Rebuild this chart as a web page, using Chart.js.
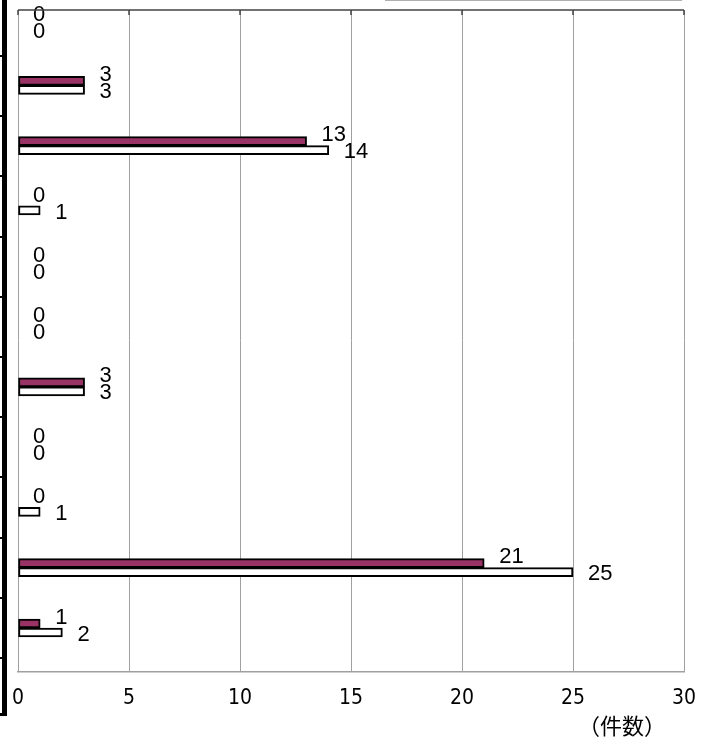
<!DOCTYPE html>
<html>
<head>
<meta charset="utf-8">
<script src="https://cdn.jsdelivr.net/npm/chart.js@4.4.1/dist/chart.umd.min.js"></script>
<style>
  body { margin: 0; background: #fff; }
  canvas { display: block; }
</style>
</head>
<body>
<canvas id="myChart" width="704" height="737"></canvas>
<script>
// categories are cut off in the picture, only their order is known
const categories = ['1', '2', '3', '4', '5', '6', '7', '8', '9', '10', '11']
const seriesA = [0, 3, 13, 0, 0, 0, 3, 0, 0, 21, 1]   // purple bars
const seriesB = [0, 3, 14, 1, 0, 0, 3, 0, 1, 25, 2]   // white bars
const xTicks = [0, 5, 10, 15, 20, 25, 30]
const unitLabel = '（件数）'

// value labels right of each bar end
const barLabels = {
  id: 'barLabels',
  afterDatasetsDraw(chart) {
    const ctx = chart.ctx
    const shift = [-6, 2]
    ctx.save()
    ctx.font = "22px 'Liberation Sans', Arial, sans-serif"
    ctx.fillStyle = '#000'
    ctx.textAlign = 'left'
    ctx.textBaseline = 'middle'
    chart.data.datasets.forEach((ds, di) => {
      chart.getDatasetMeta(di).data.forEach((bar, i) => {
        ctx.fillText(String(ds.data[i].x), bar.x + 15, bar.y + shift[di])
      })
    })
    ctx.restore()
  }
}

// bits of frame around the plot (left bracket, legend edge, top border, ticks, unit)
const frame = {
  id: 'frame',
  afterDraw(chart) {
    const ctx = chart.ctx
    const area = chart.chartArea
    const xs = chart.scales.x
    ctx.save()

    // thick black line on the far left with small ticks
    ctx.fillStyle = '#000'
    ctx.fillRect(2, 0, 5, 716)
    ctx.fillRect(0, 713, 7, 3)
    for (let i = 0; i < categories.length; i++) {
      ctx.fillRect(0, Math.round(55 + i * 60.2), 3, 2)
    }

    // bottom edge of the (cut off) legend box
    ctx.strokeStyle = '#b0b0b0'
    ctx.lineWidth = 1
    ctx.beginPath()
    ctx.moveTo(385, 0.5)
    ctx.lineTo(682, 0.5)
    ctx.stroke()

    // top border of plot with little marks at gridlines
    ctx.strokeStyle = '#444'
    ctx.lineWidth = 1.5
    ctx.beginPath()
    ctx.moveTo(area.left, area.top)
    ctx.lineTo(area.right, area.top)
    xTicks.forEach(t => {
      const px = xs.getPixelForValue(t)
      ctx.moveTo(px, area.top)
      ctx.lineTo(px, area.top + 5)
    })
    ctx.stroke()

    // x tick labels in a narrow face
    ctx.fillStyle = '#000'
    ctx.font = "21px 'Liberation Sans Narrow', 'DejaVu Sans', sans-serif"
    ctx.fontStretch = 'condensed'
    ctx.textAlign = 'center'
    ctx.textBaseline = 'middle'
    xTicks.forEach(t => {
      ctx.fillText(String(t), xs.getPixelForValue(t), 699)
    })

    // unit
    ctx.fontStretch = 'normal'
    ctx.font = "22px 'Noto Sans CJK JP', sans-serif"
    ctx.fillText(unitLabel, 622, 726)
    ctx.restore()
  }
}

const ctx = document.getElementById('myChart')

const chart = new Chart(ctx, {
  type: 'bar',
  data: {
    datasets: [{
      label: 'A',
      data: seriesA.map((v, i) => ({ x: v, y: i })),
      backgroundColor: '#993366',
      borderColor: '#000',
      borderWidth: 2,
      borderSkipped: false
    }, {
      label: 'B',
      data: seriesB.map((v, i) => ({ x: v, y: i })),
      backgroundColor: '#ffffff',
      borderColor: '#000',
      borderWidth: 2,
      borderSkipped: false
    }]
  },
  options: {
    indexAxis: 'y',
    responsive: false,
    animation: false,
    barThickness: 9,
    layout: {
      padding: { top: 10, left: 18, right: 20, bottom: 0 }
    },
    plugins: {
      legend: { display: false },
      tooltip: { enabled: false }
    },
    scales: {
      x: {
        type: 'linear',
        min: xTicks[0],
        max: xTicks[xTicks.length - 1],
        afterBuildTicks(scale) {
          scale.ticks = xTicks.map(v => ({ value: v }))
        },
        afterFit(scale) {
          scale.height = 65
          scale.paddingLeft = 0
          scale.paddingRight = 0
        },
        ticks: { display: false },
        grid: { color: '#a0a0a0', drawTicks: false, lineWidth: 1 },
        border: { color: '#a0a0a0', width: 1.5 }
      },
      y: {
        type: 'linear',
        display: false,
        reverse: true,
        offset: false,
        bounds: 'data',
        min: -0.25,
        max: 10.73,
        ticks: { stepSize: 1, includeBounds: false }
      }
    }
  },
  plugins: [barLabels, frame]
})
</script>
</body>
</html>
